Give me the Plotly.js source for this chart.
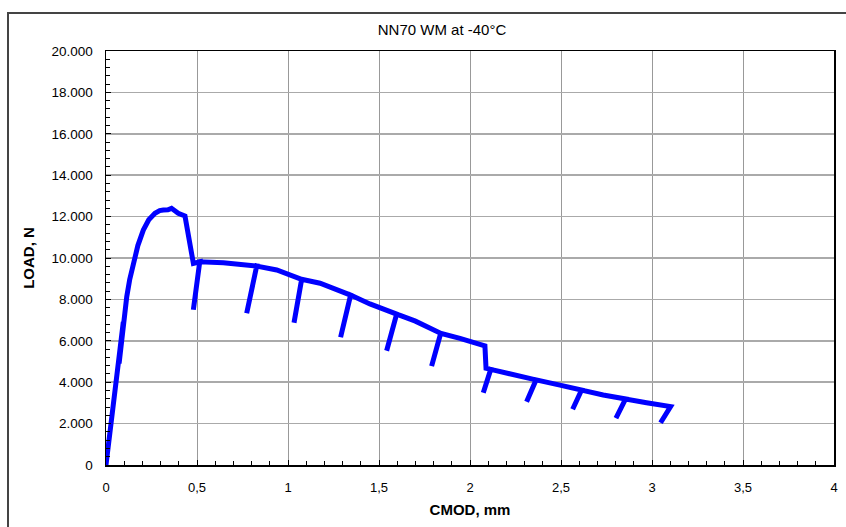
<!DOCTYPE html>
<html>
<head>
<meta charset="utf-8">
<script src="https://cdn.plot.ly/plotly-3.0.1.min.js"></script>
<style>
  html, body { margin: 0; padding: 0; background: #fff; }
  #chart { width: 846px; height: 527px; }
</style>
</head>
<body>
<div id="chart"></div>
<script>
const chartTitle = "NN70 WM at -40°C";
const xTitle = "CMOD, mm";
const yTitle = "LOAD, N";

const cmod = [0, 0.02, 0.04, 0.068, 0.095, 0.072, 0.097, 0.114, 0.13, 0.15, 0.175, 0.205, 0.235, 0.269, 0.295, 0.315, 0.34, 0.36, 0.397, 0.434,
  0.48, 0.515, 0.48, 0.515, 0.645, 0.75, 0.828, 0.773, 0.828, 0.938, 1.075, 1.033, 1.075, 1.176, 1.344, 1.289, 1.344,
  1.45, 1.597, 1.542, 1.597, 1.70, 1.839, 1.789, 1.839, 1.945, 2.082, 2.088, 2.114, 2.073, 2.114, 2.363, 2.311, 2.363,
  2.494, 2.613, 2.564, 2.613, 2.732, 2.855, 2.802, 2.855, 2.97, 3.102, 3.047];
const load = [0, 1500, 3100, 4750, 6900, 4900, 7000, 8130, 8950, 9740, 10600, 11350, 11850, 12160, 12290, 12320, 12330, 12400, 12160, 12030,
  9740, 9820, 7500, 9820, 9770, 9700, 9610, 7330, 9610, 9420, 8970, 6870, 8970, 8780, 8210, 6170, 8210,
  7780, 7290, 5520, 7290, 6950, 6360, 4780, 6360, 6120, 5750, 4670, 4620, 3490, 4620, 4110, 3060, 4110,
  3860, 3620, 2690, 3620, 3380, 3190, 2260, 3190, 3010, 2820, 2040];

const xTickVals = [0, 0.5, 1, 1.5, 2, 2.5, 3, 3.5, 4];
const yTickVals = [0, 2000, 4000, 6000, 8000, 10000, 12000, 14000, 16000, 18000, 20000];

const trace = {
  x: cmod, y: load, type: 'scatter', mode: 'lines',
  line: { color: '#0000FF', width: 5 },
  hoverinfo: 'skip', showlegend: false
};

const font = 'Liberation Sans, Arial, sans-serif';
const layout = {
  width: 846, height: 527,
  margin: { l: 106, r: 12, t: 51, b: 62 },
  paper_bgcolor: '#fff', plot_bgcolor: '#fff',
  separators: ',.',
  font: { family: font, color: '#000', size: 12 },
  title: { text: chartTitle, x: 442 / 846, xanchor: 'center', xref: 'container',
           y: 1 - 30 / 527, yanchor: 'middle', yref: 'container',
           font: { family: font, size: 15, color: '#000' } },
  xaxis: {
    range: [0, 4], tickvals: xTickVals, ticks: 'inside', ticklen: 5, tickcolor: '#000',
    showgrid: true, gridcolor: '#999', gridwidth: 1, zeroline: false,
    showline: true, linecolor: '#000', linewidth: 1.5, mirror: true,
    tickfont: { family: font, size: 13 }, ticklabelstandoff: 10,
    minor: { dtick: 0.1, ticks: 'inside', ticklen: 4, tickcolor: '#000', showgrid: false },
    title: { text: '<b>' + xTitle + '</b>', font: { family: font, size: 15 }, standoff: 10 }
  },
  yaxis: {
    range: [0, 20000], tickvals: yTickVals, tickformat: ',.0f', ticks: 'inside', ticklen: 5, tickcolor: '#000',
    showgrid: true, gridcolor: '#aaa', gridwidth: 1.5, zeroline: false,
    showline: true, linecolor: '#000', linewidth: 1.5, mirror: true,
    tickfont: { family: font, size: 13.5 }, ticklabelstandoff: 9,
    minor: { dtick: 400, ticks: 'inside', ticklen: 4, tickcolor: '#000', showgrid: false },
    title: { text: '<b>' + yTitle + '</b>', font: { family: font, size: 15 }, standoff: 13 }
  },
  shapes: [{
    type: 'rect', xref: 'paper', yref: 'paper',
    x0: (8 - 106) / 728, x1: 1.2, y0: -0.3, y1: (465 - 13) / 414,
    line: { color: '#444', width: 2 }, fillcolor: 'rgba(0,0,0,0)', layer: 'below'
  }]
};

Plotly.newPlot('chart', [trace], layout, { staticPlot: true, displayModeBar: false });
</script>
</body>
</html>
